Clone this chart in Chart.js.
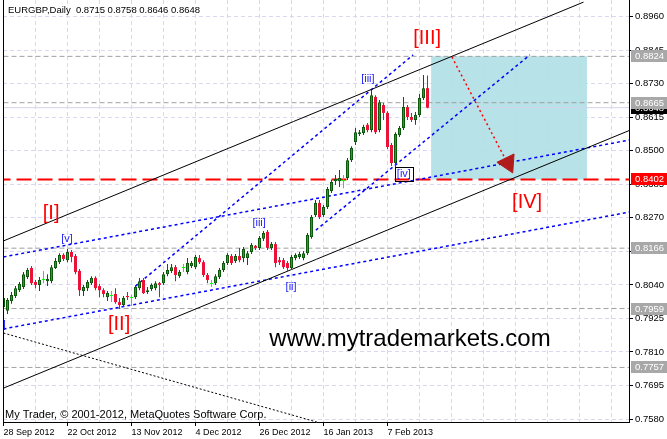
<!DOCTYPE html>
<html lang="en">
<head>
<meta charset="UTF-8">
<title>EURGBP, Daily</title>
<script src="https://cdn.jsdelivr.net/npm/chart.js@4.4.1/dist/chart.umd.min.js"></script>
<style>
  html, body { margin: 0; padding: 0; background: #fff; }
  #wrap { width: 667px; height: 439px; }
</style>
</head>
<body>
<div id="wrap"><canvas id="chart" width="667" height="439"></canvas></div>
<script>
var FONT = '"Liberation Sans", Arial, sans-serif';

// EURGBP daily candles, bar 0 = 28 Sep 2012 ... last bar = 21 Feb 2013
var opens = [0.7964,0.7951,0.7985,0.8002,0.8022,0.8033,0.8067,0.8098,0.8050,0.8040,
  0.8057,0.8053,0.8053,0.8098,0.8118,0.8143,0.8125,0.8153,0.8139,0.8088,
  0.8019,0.8029,0.8046,0.8064,0.8036,0.8022,0.7998,0.8002,0.8009,0.7981,
  0.7971,0.8002,0.7995,0.7998,0.8029,0.8057,0.8016,0.8026,0.8029,0.8046,
  0.8046,0.8077,0.8088,0.8101,0.8070,0.8098,0.8084,0.8105,0.8101,0.8132,
  0.8118,0.8074,0.8043,0.8046,0.8067,0.8091,0.8115,0.8139,0.8122,0.8139,
  0.8132,0.8132,0.8153,0.8174,0.8167,0.8198,0.8222,0.8167,0.8180,0.8125,
  0.8125,0.8115,0.8098,0.8132,0.8136,0.8132,0.8149,0.8204,0.8280,0.8321,
  0.8280,0.8307,0.8362,0.8396,0.8396,0.8396,0.8407,0.8468,0.8530,0.8558,
  0.8561,0.8589,0.8571,0.8685,0.8571,0.8657,0.8630,0.8520,0.8458,0.8554,
  0.8578,0.8650,0.8616,0.8606,0.8623,0.8681,0.8715];
var highs = [0.8005,0.7995,0.8016,0.8036,0.8050,0.8084,0.8098,0.8105,0.8057,0.8067,
  0.8088,0.8077,0.8108,0.8132,0.8149,0.8149,0.8163,0.8160,0.8146,0.8095,
  0.8040,0.8057,0.8070,0.8070,0.8043,0.8029,0.8019,0.8019,0.8029,0.7995,
  0.8002,0.8016,0.8005,0.8040,0.8064,0.8064,0.8033,0.8046,0.8053,0.8050,
  0.8084,0.8112,0.8112,0.8108,0.8091,0.8112,0.8132,0.8122,0.8143,0.8143,
  0.8125,0.8081,0.8057,0.8077,0.8098,0.8122,0.8149,0.8146,0.8146,0.8167,
  0.8170,0.8156,0.8184,0.8177,0.8208,0.8225,0.8228,0.8187,0.8187,0.8136,
  0.8132,0.8122,0.8143,0.8149,0.8153,0.8156,0.8218,0.8280,0.8331,0.8331,
  0.8314,0.8376,0.8400,0.8417,0.8434,0.8417,0.8475,0.8516,0.8578,0.8571,
  0.8589,0.8595,0.8709,0.8691,0.8674,0.8664,0.8636,0.8527,0.8564,0.8585,
  0.8685,0.8657,0.8630,0.8633,0.8695,0.8760,0.8758];
var lows = [0.7954,0.7940,0.7975,0.7995,0.8016,0.8026,0.8060,0.8040,0.8029,0.8019,
  0.8046,0.8036,0.8046,0.8095,0.8112,0.8122,0.8118,0.8118,0.8077,0.8002,
  0.8002,0.8019,0.8040,0.8022,0.7998,0.7998,0.7985,0.7981,0.7975,0.7957,
  0.7964,0.7988,0.7968,0.7992,0.8022,0.8009,0.8009,0.8019,0.8022,0.7998,
  0.8040,0.8070,0.8081,0.8053,0.8064,0.8084,0.8077,0.8098,0.8095,0.8112,
  0.8067,0.8046,0.8033,0.8040,0.8060,0.8084,0.8108,0.8108,0.8115,0.8118,
  0.8118,0.8108,0.8146,0.8160,0.8160,0.8191,0.8160,0.8160,0.8101,0.8108,
  0.8095,0.8084,0.8091,0.8125,0.8129,0.8125,0.8143,0.8198,0.8273,0.8266,
  0.8273,0.8300,0.8355,0.8383,0.8376,0.8372,0.8400,0.8462,0.8520,0.8551,
  0.8554,0.8564,0.8564,0.8558,0.8564,0.8606,0.8506,0.8448,0.8444,0.8547,
  0.8571,0.8606,0.8599,0.8589,0.8616,0.8674,0.8646];
var closes = [0.7995,0.7988,0.8005,0.8029,0.8043,0.8077,0.8091,0.8046,0.8040,0.8057,
  0.8058,0.8060,0.8101,0.8122,0.8143,0.8129,0.8153,0.8136,0.8084,0.8022,
  0.8033,0.8050,0.8064,0.8029,0.8022,0.8009,0.8012,0.8003,0.7981,0.7971,
  0.7995,0.7998,0.7996,0.8033,0.8053,0.8012,0.8022,0.8040,0.8046,0.8040,
  0.8077,0.8091,0.8101,0.8074,0.8084,0.8099,0.8115,0.8115,0.8136,0.8118,
  0.8074,0.8057,0.8044,0.8070,0.8091,0.8115,0.8143,0.8115,0.8139,0.8125,
  0.8163,0.8149,0.8177,0.8167,0.8201,0.8218,0.8167,0.8180,0.8115,0.8118,
  0.8101,0.8098,0.8136,0.8143,0.8146,0.8149,0.8211,0.8273,0.8321,0.8273,
  0.8307,0.8369,0.8393,0.8403,0.8407,0.8397,0.8468,0.8510,0.8564,0.8564,
  0.8582,0.8571,0.8691,0.8564,0.8667,0.8630,0.8513,0.8458,0.8558,0.8578,
  0.8650,0.8616,0.8606,0.8623,0.8681,0.8715,0.8648];

var dateTicks = [0, 16, 32, 48, 64, 80, 96];
var dateLabels = ['28 Sep 2012', '22 Oct 2012', '13 Nov 2012', '4 Dec 2012',
  '26 Dec 2012', '16 Jan 2013', '7 Feb 2013'];
var gridBars = [0, 8, 16, 24, 32, 40, 48, 56, 64, 72, 80, 88, 96, 104, 112, 120, 128, 136, 144, 152];
var priceTicks = [0.7580, 0.7695, 0.7810, 0.7925, 0.8040, 0.8155, 0.8270,
  0.8385, 0.8500, 0.8615, 0.8730, 0.8845, 0.8960];

var levelPrices = [0.8824, 0.8665, 0.8166, 0.7959, 0.7757];
var bidPrice = 0.8648;
var targetPrice = 0.8402;

// drawn objects as [bar, price] points
var upperChannel = [[0, 0.8191], [145, 0.9010]];
var lowerChannel = [[0, 0.7686], [156.5, 0.8570]];
var blackDotted = [[0, 0.7875], [79.25, 0.7566]];
var blueUpper = [[0, 0.8136], [156.5, 0.8537]];
var blueLower = [[0, 0.7889], [156.5, 0.8290]];
var blueSteep = [[33, 0.8036], [102.4, 0.8829]];
var blueWave = [[78.1, 0.8228], [131.6, 0.8829]];
var boxBars = [106.9, 145.9];
var boxPrices = [0.8824, 0.8402];
var arrowLine = [[112.1, 0.8822], [125.6, 0.8468]];
var arrowHead = [126.1, 0.8458];

// wave marks
var redMarks = ['[I]', '[II]', '[III]', '[IV]'];
var redMarkBars = [11.9, 28.9, 105.9, 130.9];
var redMarkPrices = [0.8285, 0.7903, 0.8887, 0.8324];
var blueMarks = ['[v]', '[iii]', '[ii]', '[iii]', '[iv]', '[v]'];
var blueMarkBars = [15.9, 63.9, 71.9, 91.1, 100.1, -0.9];
var blueMarkPrices = [0.8198, 0.8251, 0.8033, 0.8746, 0.8422, 0.7903];

var barIndex = opens.map(function (v, i) { return i; });

function isDoji(i) { return Math.abs(closes[i] - opens[i]) < 0.00015; }
function isBull(i) { return closes[i] >= opens[i]; }
function bodyColor(i) {
  if (isDoji(i)) return '#00ff00';
  return isBull(i) ? '#22a622' : '#ea1239';
}
function wickColor(i) {
  if (isDoji(i)) return '#00ff00';
  return isBull(i) ? '#0b5a0b' : '#d8102e';
}
function pts(arr) {
  return arr.map(function (p) { return { x: p[0], y: p[1] }; });
}
function line(arr, color, width, dash, order) {
  return {
    type: 'line', data: pts(arr), borderColor: color, borderWidth: width,
    borderDash: dash, pointRadius: 0, pointHoverRadius: 0, fill: false,
    tension: 0, order: order
  };
}

var datasets = [
  {
    type: 'bar', label: 'body',
    data: barIndex.map(function (i) { return { x: i, y: [opens[i], closes[i]] }; }),
    backgroundColor: barIndex.map(bodyColor),
    borderColor: '#0b5a0b',
    borderWidth: barIndex.map(function (i) { return isBull(i) && !isDoji(i) ? 1 : 0; }),
    borderSkipped: false,
    grouped: false, categoryPercentage: 1, barPercentage: 0.75,
    minBarLength: 1, inflateAmount: 0, order: 1
  },
  {
    type: 'bar', label: 'wick',
    data: barIndex.map(function (i) { return { x: i, y: [lows[i], highs[i]] }; }),
    backgroundColor: barIndex.map(wickColor),
    grouped: false, categoryPercentage: 1, barPercentage: 0.25,
    inflateAmount: 0, borderWidth: 0, order: 2
  },
  {
    type: 'line', data: [{ x: arrowHead[0], y: arrowHead[1] }], showLine: false,
    pointStyle: 'triangle', pointRadius: 11, pointRotation: 154,
    pointBackgroundColor: '#b01c1c', pointBorderColor: '#b01c1c', pointBorderWidth: 1,
    order: 3
  },
  line(arrowLine, '#ff0000', 1.5, [2, 3], 4),
  line(upperChannel, '#000000', 1, [], 5),
  line(lowerChannel, '#000000', 1, [], 5),
  line(blackDotted, '#000000', 1, [2, 2], 5),
  line(blueUpper, '#0000ff', 1.5, [3, 3], 5),
  line(blueLower, '#0000ff', 1.5, [3, 3], 5),
  line(blueSteep, '#0000ff', 1.5, [3, 3], 5),
  line(blueWave, '#0000ff', 1.5, [3, 3], 5),
  line([[-2, targetPrice], [160, targetPrice]], '#ff0000', 2, [15, 6], 6),
  line([[-2, bidPrice], [160, bidPrice]], '#d2d2ea', 1, [], 7),
  {
    type: 'line', data: pts([[boxBars[0], boxPrices[0]], [boxBars[1], boxPrices[0]]]),
    borderWidth: 0, pointRadius: 0, fill: { value: boxPrices[1] },
    backgroundColor: 'rgba(176,224,230,0.93)', order: 20
  }
];
levelPrices.forEach(function (p) {
  datasets.push(line([[-2, p], [160, p]], '#a0a0a0', 1, [5, 3], 6));
});

var overlay = {
  id: 'overlay',
  afterDatasetsDraw: function (chart) {
    var ctx = chart.ctx, xs = chart.scales.x, ys = chart.scales.y, a = chart.chartArea;
    ctx.save();
    ctx.beginPath();
    ctx.rect(a.left, a.top, a.right - a.left, a.bottom - a.top);
    ctx.clip();
    ctx.textAlign = 'center';
    ctx.textBaseline = 'middle';

    ctx.font = '20px ' + FONT;
    ctx.fillStyle = '#ff0000';
    redMarks.forEach(function (t, k) {
      ctx.fillText(t, xs.getPixelForValue(redMarkBars[k]), ys.getPixelForValue(redMarkPrices[k]));
    });

    ctx.font = '11px ' + FONT;
    ctx.fillStyle = '#2222ff';
    blueMarks.forEach(function (t, k) {
      var x = xs.getPixelForValue(blueMarkBars[k]), y = ys.getPixelForValue(blueMarkPrices[k]);
      ctx.fillText(t, x, y);
      if (t === '[iv]') {
        ctx.strokeStyle = '#000';
        ctx.lineWidth = 1;
        ctx.strokeRect(Math.round(x - 9) + 0.5, Math.round(y - 7) + 0.5, 18, 14);
      }
    });

    ctx.fillStyle = '#000';
    ctx.font = '24px ' + FONT;
    ctx.fillText('www.mytrademarkets.com', 410, 339);
    ctx.restore();

    ctx.save();
    ctx.fillStyle = '#000';
    ctx.textAlign = 'left';
    ctx.textBaseline = 'middle';
    ctx.font = '11px ' + FONT;
    ctx.fillText('My Trader, \u00a9 2001-2012, MetaQuotes Software Corp.', 5, 415);
    ctx.font = '9.5px ' + FONT;
    ctx.fillText('EURGBP,Daily  0.8715 0.8758 0.8646 0.8648', 8, 10);
    ctx.restore();
  },
  afterDraw: function (chart) {
    var ctx = chart.ctx, ys = chart.scales.y, a = chart.chartArea;
    ctx.save();
    ctx.strokeStyle = '#000';
    ctx.lineWidth = 1;
    ctx.beginPath();
    ctx.moveTo(Math.round(a.left) + 0.5, a.top);
    ctx.lineTo(Math.round(a.left) + 0.5, a.bottom);
    ctx.stroke();

    ctx.font = '9.5px ' + FONT;
    ctx.textAlign = 'left';
    ctx.textBaseline = 'middle';
    function tag(price, bg) {
      var y = Math.round(ys.getPixelForValue(price));
      ctx.fillStyle = bg;
      ctx.fillRect(a.right + 2, y - 6, chart.width - a.right - 2, 12);
      ctx.fillStyle = '#fff';
      ctx.fillText(price.toFixed(4), a.right + 6, y);
    }
    tag(bidPrice, '#000000');
    levelPrices.forEach(function (p) { tag(p, '#a8a8a8'); });
    tag(targetPrice, '#ff0000');
    ctx.restore();
  }
};

new Chart(document.getElementById('chart'), {
  type: 'bar',
  data: { datasets: datasets },
  plugins: [overlay],
  options: {
    responsive: false,
    animation: false,
    events: [],
    layout: { autoPadding: false, padding: { left: 3, top: 0, right: 0, bottom: 0 } },
    plugins: { legend: { display: false }, tooltip: { enabled: false } },
    scales: {
      x: {
        type: 'linear', min: -0.125, max: 156.375, offset: false,
        afterBuildTicks: function (s) { s.ticks = gridBars.map(function (v) { return { value: v }; }); },
        afterFit: function (s) { s.height = 17; s.paddingLeft = 0; s.paddingRight = 0; },
        grid: {
          offset: false, color: '#d8d8ee', tickLength: 4, tickBorderDash: [],
          tickColor: function (c) { return c.tick && dateTicks.indexOf(c.tick.value) >= 0 ? '#000' : 'rgba(0,0,0,0)'; }
        },
        border: { color: '#000', width: 1, dash: [4, 3] },
        ticks: {
          autoSkip: false, maxRotation: 0, minRotation: 0, align: 'start', padding: 1,
          color: '#000', font: { family: FONT, size: 9 },
          callback: function (v) { var k = dateTicks.indexOf(v); return k >= 0 ? dateLabels[k] : ''; }
        }
      },
      y: {
        position: 'right', min: 0.75698, max: 0.90173, beginAtZero: false,
        afterBuildTicks: function (s) { s.ticks = priceTicks.map(function (v) { return { value: v }; }); },
        afterFit: function (s) { s.width = 38; s.paddingTop = 0; s.paddingBottom = 0; },
        grid: { color: '#d8d8ee', tickLength: 4, tickColor: '#000', tickBorderDash: [] },
        border: { color: '#000', width: 1, dash: [4, 3] },
        ticks: {
          padding: 2, color: '#000', font: { family: FONT, size: 9.5 },
          callback: function (v) { return v.toFixed(4); }
        }
      }
    }
  }
});
</script>
</body>
</html>
